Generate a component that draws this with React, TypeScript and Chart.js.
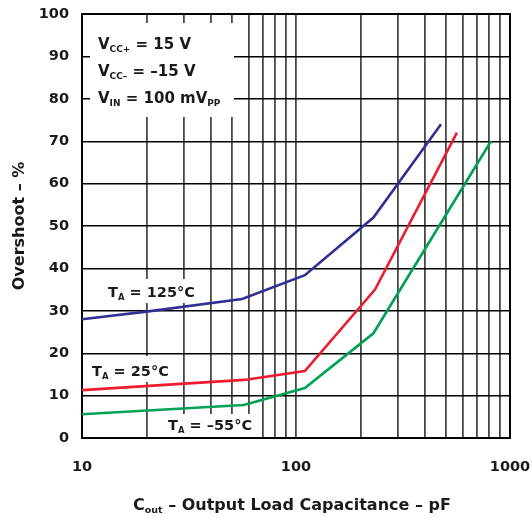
import React, { useEffect, useRef } from "react";
import { Chart, registerables } from "chart.js";

Chart.register(...registerables);

// Output load capacitance (pF) and overshoot (%) per ambient temperature
const cap125 = [10, 20, 56, 110, 230, 476];
const overshoot125 = [28, 29.8, 32.8, 38.4, 52, 74];

const cap25 = [10, 57, 110, 234, 565];
const overshoot25 = [11.3, 13.7, 15.8, 35, 72];

const capMinus55 = [10, 57, 110, 230, 815];
const overshootMinus55 = [5.6, 7.8, 11.8, 24.7, 70];

const xGridValues = [10, 20, 30, 40, 50, 60, 70, 80, 90, 100, 200, 300, 400, 500, 600, 700, 800, 900, 1000];
const xTickLabels = [10, 100, 1000];

const FONT = '"DejaVu Sans", "Liberation Sans", Arial, sans-serif';
const TEXT_COLOR = "#1a1a1a";

type Part = { t: string; sub?: boolean };

function drawRich(ctx: CanvasRenderingContext2D, x: number, y: number, parts: Part[], size: number, subSize: number) {
  let cx = x;
  ctx.textAlign = "left";
  ctx.textBaseline = "alphabetic";
  ctx.fillStyle = TEXT_COLOR;
  for (const p of parts) {
    ctx.font = `bold ${p.sub ? subSize : size}px ${FONT}`;
    ctx.fillText(p.t, cx, p.sub ? y + 2.5 : y);
    cx += ctx.measureText(p.t).width;
  }
}

const annotationPlugin = {
  id: "annotations",
  beforeDatasetsDraw(chart: any) {
    const ctx: CanvasRenderingContext2D = chart.ctx;
    const { left, right, top, bottom } = chart.chartArea;
    ctx.save();
    // white backgrounds behind the in-plot texts
    ctx.fillStyle = "#fff";
    ctx.fillRect(90, 23, 144, 94);
    ctx.fillRect(104, 279, 93, 24);
    ctx.fillRect(88, 356, 86, 26);
    ctx.fillRect(164, 414, 95, 24);
    // plot frame
    ctx.strokeStyle = "#000";
    ctx.lineWidth = 2;
    ctx.strokeRect(left, top, right - left, bottom - top);
    ctx.restore();
  },
  afterDraw(chart: any) {
    const ctx: CanvasRenderingContext2D = chart.ctx;
    ctx.save();
    drawRich(ctx, 98, 49, [{ t: "V" }, { t: "CC+", sub: true }, { t: " = 15 V" }], 15, 9);
    drawRich(ctx, 98, 76, [{ t: "V" }, { t: "CC–", sub: true }, { t: " = –15 V" }], 15, 9);
    drawRich(ctx, 98, 103, [{ t: "V" }, { t: "IN", sub: true }, { t: " = 100 mV" }, { t: "PP", sub: true }], 15, 9);

    drawRich(ctx, 108, 297, [{ t: "T" }, { t: "A", sub: true }, { t: " = 125°C" }], 14.5, 8.5);
    drawRich(ctx, 92, 376, [{ t: "T" }, { t: "A", sub: true }, { t: " = 25°C" }], 14.5, 8.5);
    drawRich(ctx, 168, 430, [{ t: "T" }, { t: "A", sub: true }, { t: " = –55°C" }], 14.5, 8.5);

    drawRich(ctx, 133, 510, [{ t: "C" }, { t: "out", sub: true }, { t: " – Output Load Capacitance – pF" }], 16, 9.5);

    ctx.translate(24, 226);
    ctx.rotate(-Math.PI / 2);
    ctx.font = `bold 16px ${FONT}`;
    ctx.fillStyle = TEXT_COLOR;
    ctx.textAlign = "center";
    ctx.textBaseline = "alphabetic";
    ctx.fillText("Overshoot – %", 0, 0);
    ctx.restore();
  },
};

const toPoints = (xs: number[], ys: number[]) => xs.map((x, i) => ({ x, y: ys[i] }));

export default function App() {
  const canvasRef = useRef<HTMLCanvasElement | null>(null);

  useEffect(() => {
    document.body.style.margin = "0";
    const canvas = canvasRef.current;
    if (!canvas) return;
    const chart = new Chart(canvas, {
      type: "line",
      data: {
        datasets: [
          { label: "TA = 125°C", data: toPoints(cap125, overshoot125), borderColor: "rgb(46,49,146)" },
          { label: "TA = 25°C", data: toPoints(cap25, overshoot25), borderColor: "rgb(237,28,46)" },
          { label: "TA = –55°C", data: toPoints(capMinus55, overshootMinus55), borderColor: "rgb(0,160,85)" },
        ].map((d) => ({ ...d, borderWidth: 2.6, pointRadius: 0, tension: 0, fill: false })),
      },
      options: {
        responsive: false,
        animation: false,
        events: [],
        layout: { padding: { top: 14, right: 22, left: 0, bottom: 0 } },
        plugins: { legend: { display: false }, tooltip: { enabled: false } },
        scales: {
          x: {
            type: "logarithmic",
            min: 10,
            max: 1000,
            afterBuildTicks: (scale: any) => {
              scale.ticks = xGridValues.map((v) => ({ value: v, major: xTickLabels.includes(v) }));
            },
            afterFit: (scale: any) => {
              scale.height = 80;
              scale.paddingLeft = 0;
              scale.paddingRight = 0;
            },
            grid: { color: "rgba(40,40,40,0.85)", lineWidth: 1.8, drawTicks: false },
            border: { display: false },
            ticks: {
              autoSkip: false,
              maxRotation: 0,
              padding: 21,
              color: TEXT_COLOR,
              font: { family: FONT, size: 14.5, weight: "bold" },
              callback: (v: any) => (xTickLabels.includes(Number(v)) ? String(v) : ""),
            },
          },
          y: {
            min: 0,
            max: 100,
            afterFit: (scale: any) => {
              scale.width = 82;
              scale.paddingTop = 0;
              scale.paddingBottom = 0;
            },
            grid: { color: "#000", lineWidth: 1.4, drawTicks: false },
            border: { display: false },
            ticks: {
              stepSize: 10,
              padding: 13,
              color: TEXT_COLOR,
              font: { family: FONT, size: 14.5, weight: "bold" },
            },
          },
        },
      },
      plugins: [annotationPlugin],
    } as any);
    return () => chart.destroy();
  }, []);

  return (
    <div style={{ width: 532, height: 518, background: "#fff" }}>
      <canvas ref={canvasRef} width={532} height={518} />
    </div>
  );
}
